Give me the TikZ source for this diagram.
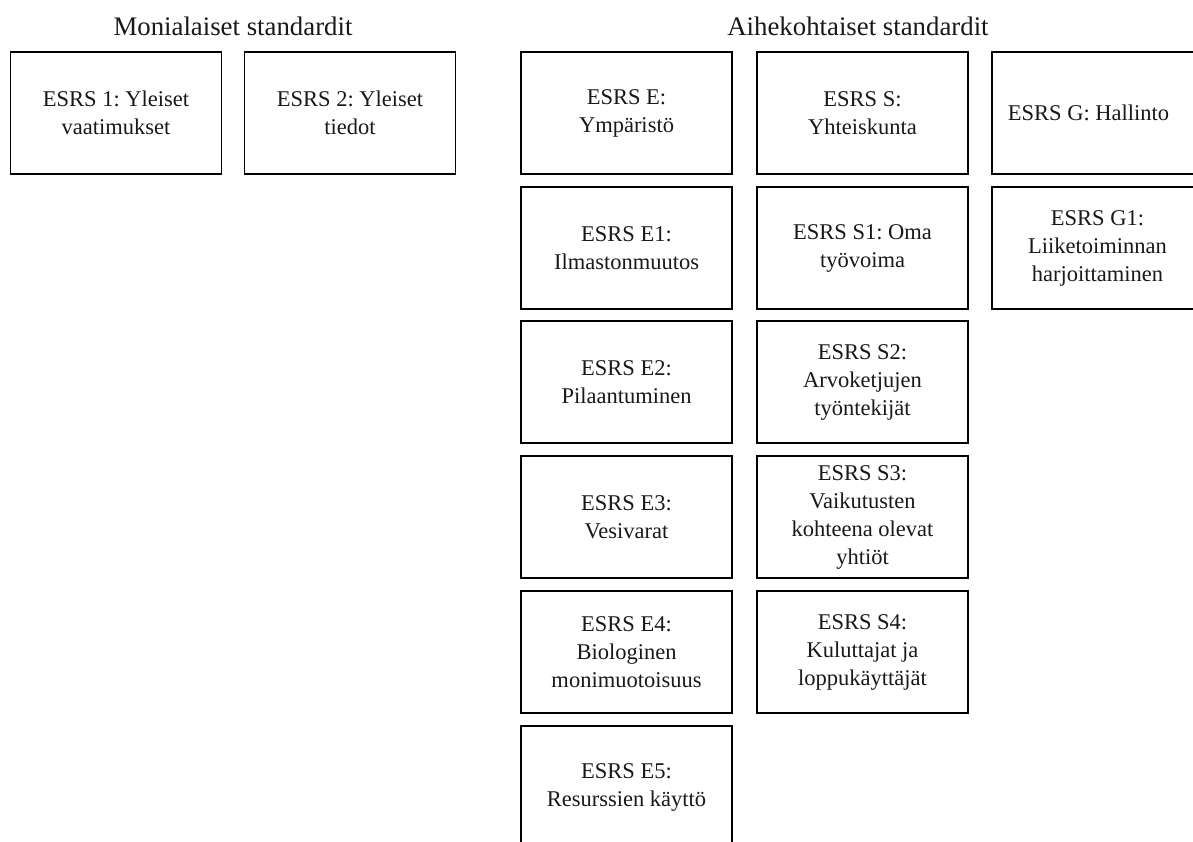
\documentclass[tikz,border=0pt]{standalone}
\usepackage{fontspec}
\setmainfont{Liberation Serif}
\frenchspacing
\begin{document}
\begin{tikzpicture}[x=1pt,y=-1pt,
  stdbox/.style={draw=black,line width=1.3pt,minimum width=211pt,minimum height=122pt,inner sep=2pt,align=center,font=\fontsize{22.5}{28}\selectfont\frenchspacing,text=black!90},
  heading/.style={anchor=base,font=\fontsize{26.8}{30}\selectfont\frenchspacing,text=black!90}]
\useasboundingbox (0,0) rectangle (1193,841);
\clip (0,0) rectangle (1193,841);
\fill[white] (0,0) rectangle (1193,841);
\node[heading] (th1) at (233,35) {Monialaiset standardit};
\node[heading] (th2) at (858,35) {Aihekohtaiset standardit};
\node[stdbox] (m1) at (116,113) {ESRS 1: Yleiset\\vaatimukset};
\node[stdbox] (m2) at (350,113) {ESRS 2: Yleiset\\tiedot};
\node[stdbox] (e) at (626.5,113) {ESRS E:\\Ympäristö};
\node[stdbox] (s) at (862.5,113) {ESRS S:\\Yhteiskunta};
\node[stdbox] (g) at (1097.5,113) {\hspace*{-18pt}ESRS G: Hallinto};
\node[stdbox] (e1) at (626.5,248) {ESRS E1:\\Ilmastonmuutos};
\node[stdbox] (s1) at (862.5,248) {ESRS S1: Oma\\työvoima};
\node[stdbox] (g1) at (1097.5,248) {ESRS G1:\\Liiketoiminnan\\harjoittaminen};
\node[stdbox] (e2) at (626.5,382) {ESRS E2:\\Pilaantuminen};
\node[stdbox] (s2) at (862.5,382) {ESRS S2:\\Arvoketjujen\\työntekijät};
\node[stdbox] (e3) at (626.5,517) {ESRS E3:\\Vesivarat};
\node[stdbox] (s3) at (862.5,517) {ESRS S3:\\Vaikutusten\\kohteena olevat\\yhtiöt};
\node[stdbox] (e4) at (626.5,652) {ESRS E4:\\Biologinen\\monimuotoisuus};
\node[stdbox] (s4) at (862.5,652) {ESRS S4:\\Kuluttajat ja\\loppukäyttäjät};
\node[stdbox] (e5) at (626.5,787) {ESRS E5:\\Resurssien käyttö};
\end{tikzpicture}
\end{document}
